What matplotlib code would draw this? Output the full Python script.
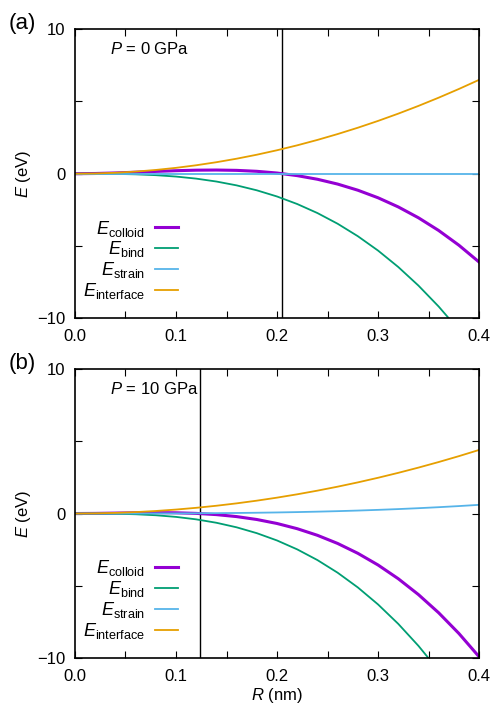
import matplotlib
matplotlib.use("Agg")
import matplotlib.pyplot as plt
from matplotlib.ticker import MultipleLocator

plt.rcParams['font.family'] = ['Liberation Sans', 'DejaVu Sans']
plt.rcParams['mathtext.fontset'] = 'custom'
plt.rcParams['mathtext.rm'] = 'Liberation Sans'
plt.rcParams['mathtext.it'] = 'Liberation Sans:italic'

# R values (nm), shared by both panels
R = [0.00, 0.02, 0.04, 0.06, 0.08, 0.10, 0.12, 0.14, 0.16, 0.18, 0.20,
     0.22, 0.24, 0.26, 0.28, 0.30, 0.32, 0.34, 0.36, 0.38, 0.40]

# panel (a), P = 0 GPa
a_colloid = [0, 0.015, 0.052, 0.104, 0.159, 0.209, 0.245, 0.255, 0.232, 0.166, 0.048,
             -0.133, -0.384, -0.717, -1.142, -1.665, -2.298, -3.050, -3.929, -4.947, -6.112]
a_bind = [0, -0.002, -0.013, -0.043, -0.101, -0.197, -0.340, -0.541, -0.807, -1.149, -1.576,
          -2.098, -2.723, -3.462, -4.325, -5.319, -6.455, -7.743, -9.191, -10.810, -12.608]
a_strain = [0]*21
a_interface = [0, 0.016, 0.065, 0.146, 0.260, 0.406, 0.585, 0.796, 1.039, 1.315, 1.624,
               1.965, 2.339, 2.745, 3.183, 3.654, 4.157, 4.693, 5.262, 5.863, 6.496]
a_rc = 0.205

# panel (b), P = 10 GPa
b_colloid = [0, 0.009, 0.030, 0.051, 0.062, 0.051, 0.010, -0.075, -0.212, -0.413, -0.689,
             -1.050, -1.507, -2.071, -2.753, -3.562, -4.511, -5.610, -6.868, -8.298, -9.910]
b_bind = [0, -0.002, -0.015, -0.050, -0.119, -0.233, -0.403, -0.639, -0.954, -1.359, -1.864,
          -2.481, -3.221, -4.095, -5.115, -6.291, -7.635, -9.158, -10.871, -12.785, -14.912]
b_strain = [0, 0.0001, 0.0006, 0.002, 0.005, 0.009, 0.016, 0.026, 0.039, 0.055, 0.075,
            0.100, 0.130, 0.165, 0.206, 0.254, 0.308, 0.370, 0.439, 0.516, 0.602]
b_interface = [0, 0.011, 0.044, 0.099, 0.176, 0.275, 0.396, 0.539, 0.704, 0.891, 1.100,
               1.331, 1.584, 1.859, 2.156, 2.475, 2.816, 3.179, 3.564, 3.971, 4.400]
b_rc = 0.124

colors = {'colloid': '#9400d3', 'bind': '#009e73', 'strain': '#56b4e9', 'interface': '#e69f00'}

fig = plt.figure(figsize=(4.91, 7.04), dpi=100)
ax1 = fig.add_axes([0.1527, 0.548, 0.823, 0.4105])
ax2 = fig.add_axes([0.1527, 0.0653, 0.823, 0.4105])

def draw(ax, colloid, bind, strain, interface, rc, ptext, tag):
    ax.axvline(rc, color='black', lw=1.0, zorder=1)
    ax.plot(R, colloid, color=colors['colloid'], lw=2.2, label=r'$E_{\rm colloid}$')
    ax.plot(R, bind, color=colors['bind'], lw=1.3, label=r'$E_{\rm bind}$')
    ax.plot(R, strain, color=colors['strain'], lw=1.3, label=r'$E_{\rm strain}$')
    ax.plot(R, interface, color=colors['interface'], lw=1.3, label=r'$E_{\rm interface}$')
    ax.set_xlim(0, 0.4)
    ax.set_ylim(-10, 10)
    ax.set_xticks([0.0, 0.1, 0.2, 0.3, 0.4])
    ax.set_xticklabels(['0.0', '0.1', '0.2', '0.3', '0.4'])
    ax.set_yticks([-10, 0, 10])
    ax.xaxis.set_minor_locator(MultipleLocator(0.05))
    ax.yaxis.set_minor_locator(MultipleLocator(5))
    ax.tick_params(which='both', direction='in', top=True, right=True,
                   length=5, width=0.8, labelsize=12)
    ax.tick_params(axis='x', pad=8)
    ax.tick_params(axis='y', pad=7)
    for s in ax.spines.values():
        s.set_linewidth(1.2)
    ax.set_ylabel(r'$E$ (eV)', fontsize=12)
    ax.yaxis.set_label_coords(-0.104, 0.5)
    ax.text(0.087, 0.93, ptext, transform=ax.transAxes, fontsize=12, va='center')
    ax.text(-0.165, 1.02, tag, transform=ax.transAxes, fontsize=16, va='center')
    ax.legend(loc='upper right', bbox_to_anchor=(0.255, 0.345), frameon=False,
              markerfirst=False, fontsize=13, handlelength=1.3, handletextpad=0.55,
              labelspacing=0.05, borderpad=0, borderaxespad=0)

draw(ax1, a_colloid, a_bind, a_strain, a_interface, a_rc, r'$P$ = 0 GPa', '(a)')
draw(ax2, b_colloid, b_bind, b_strain, b_interface, b_rc, r'$P$ = 10 GPa', '(b)')
ax2.set_xlabel(r'$R$ (nm)', fontsize=12)
ax2.xaxis.set_label_coords(0.5, -0.098)

fig.savefig('out.png', dpi=100)
